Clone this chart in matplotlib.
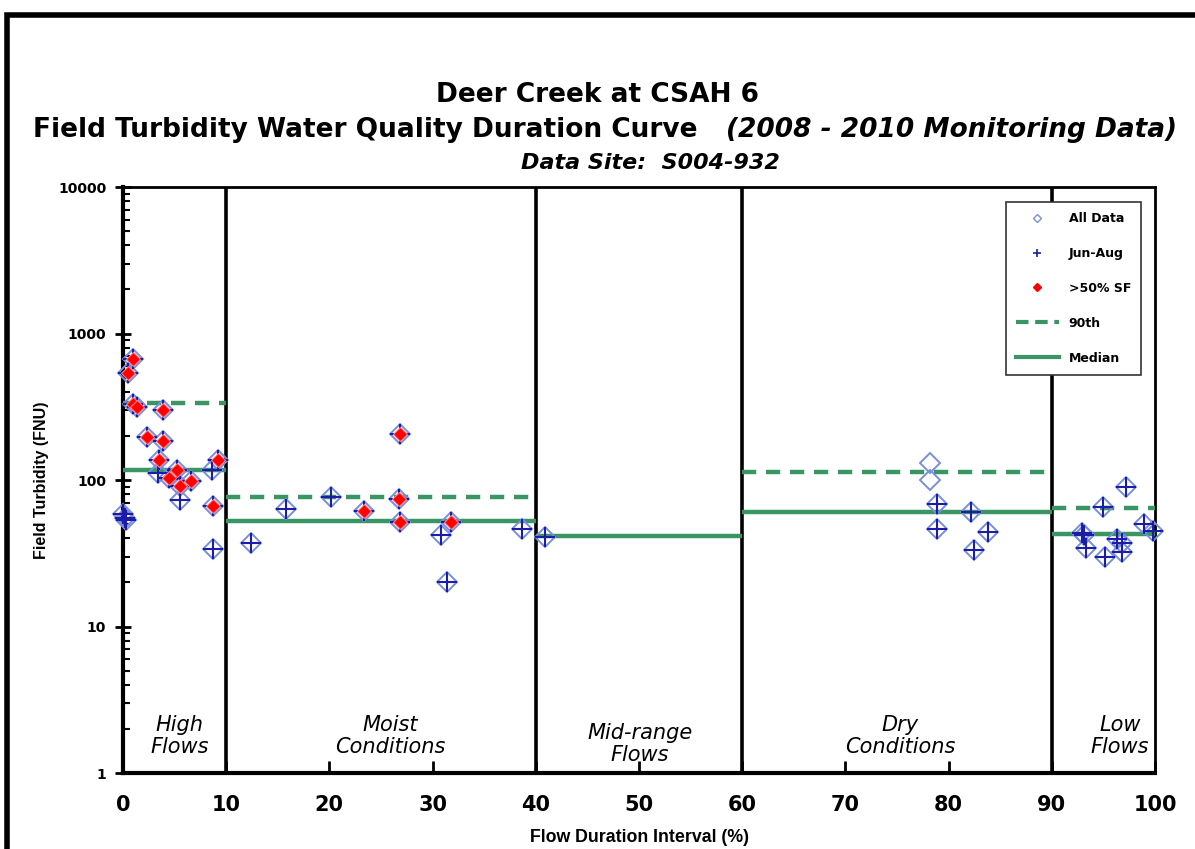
import matplotlib
matplotlib.use('Agg')
import matplotlib.pyplot as plt
from matplotlib.lines import Line2D
from matplotlib.patches import Rectangle
from matplotlib import font_manager
import numpy as np

# ---------------- data ----------------
# All samples (open light-blue diamonds): x = flow duration interval (%), y = turbidity (FNU)
all_x = [0.0, 0.15, 0.3, 0.5, 1.0, 1.0, 1.4, 2.3, 3.4, 3.5, 3.9, 3.9, 4.5, 5.2, 5.5, 5.5, 6.6,
         8.6, 8.75, 8.75, 9.2,
         12.4, 15.8, 20.2, 23.4, 26.7, 26.8, 26.8, 30.8, 31.4, 31.8, 38.7, 40.9,
         78.2, 78.2, 78.9, 78.9, 82.2, 82.5, 83.8,
         92.9, 93.1, 93.3, 95.0, 95.2, 96.3, 96.8, 96.8, 97.2, 98.9, 99.8]
all_y = [59, 55, 53, 540, 667, 330, 315, 196, 111, 137, 300, 185, 103, 117, 91, 73, 98,
         117, 66, 34, 137,
         37.3, 63, 77, 61.7, 73.8, 206, 51.7, 42, 20.1, 51.7, 46.1, 41,
         131, 100, 68.3, 46.1, 60.8, 33.3, 44.4,
         43.7, 42, 34.2, 65.7, 30, 39.4, 37, 32.4, 89, 50.1, 45.1]
# Jun-Aug samples (dark-blue plus)
jun_x = [0.0, 0.15, 0.3, 0.5, 1.0, 1.0, 1.4, 2.3, 3.4, 3.5, 3.9, 3.9, 4.5, 5.2, 5.5, 5.5, 6.6,
         8.6, 8.75, 8.75, 9.2,
         12.4, 15.8, 20.2, 23.4, 26.7, 26.8, 26.8, 30.8, 31.4, 31.8, 38.7, 40.9,
         78.9, 78.9, 82.2, 82.5, 83.8,
         92.9, 93.1, 93.3, 95.0, 95.2, 96.3, 96.8, 96.8, 97.2, 98.9, 99.8]
jun_y = [59, 55, 53, 540, 667, 330, 315, 196, 111, 137, 300, 185, 103, 117, 91, 73, 98,
         117, 66, 34, 137,
         37.3, 63, 77, 61.7, 73.8, 206, 51.7, 42, 20.1, 51.7, 46.1, 41,
         68.3, 46.1, 60.8, 33.3, 44.4,
         43.7, 42, 34.2, 65.7, 30, 39.4, 37, 32.4, 89, 50.1, 45.1]
# >50% storm flow samples (red filled diamonds)
sf_x = [0.5, 1.0, 1.0, 1.4, 2.3, 3.5, 3.9, 3.9, 4.5, 5.2, 5.5, 6.6, 8.75, 9.2,
        23.4, 26.7, 26.8, 26.8, 31.8]
sf_y = [540, 667, 330, 315, 196, 137, 300, 185, 103, 117, 91, 98, 66, 137,
        61.7, 73.8, 206, 51.7, 51.7]

# Flow zones and statistics
zone_edges = [0, 10, 40, 60, 90, 100]
zone_names = ["High\nFlows", "Moist\nConditions", "Mid-range\nFlows", "Dry\nConditions", "Low\nFlows"]
p90_vals = [335, 76.5, np.nan, 113.5, 64.4]
median_vals = [117, 52.5, 41.5, 60.5, 42.8]

x_ticks = [0, 10, 20, 30, 40, 50, 60, 70, 80, 90, 100]
y_ticks = [1, 10, 100, 1000, 10000]
y_ticklabels = ["1", "10", "100", "1000", "10000"]

# ---------------- style ----------------
names = {f.name for f in font_manager.fontManager.ttflist}
NARROW = 'Liberation Sans Narrow' if 'Liberation Sans Narrow' in names else 'DejaVu Sans'
SANS = 'Liberation Sans' if 'Liberation Sans' in names else 'DejaVu Sans'

GREEN = '#3a9463'
LBLUE = '#7890dc'
DBLUE = '#1c1ca8'
RED = '#ff0000'

fig = plt.figure(figsize=(11.95, 8.49), dpi=100)
ax = fig.add_axes([0.1029, 0.0895, 0.8636, 0.6902])

ax.set_yscale('log')
ax.set_xlim(0, 100)
ax.set_ylim(1, 10000)

# zone dividers
for e in zone_edges[1:-1]:
    ax.axvline(e, color='black', lw=2.6, zorder=2)

# statistics lines
for i in range(len(zone_edges) - 1):
    x0, x1 = zone_edges[i], zone_edges[i + 1]
    if not np.isnan(p90_vals[i]):
        ax.hlines(p90_vals[i], x0, x1, colors=GREEN, linestyles=(0, (3.2, 2.2)), lw=3.2, zorder=3)
    ax.hlines(median_vals[i], x0, x1, colors=GREEN, linestyles='solid', lw=3.2, zorder=3)

# markers
ax.plot(all_x, all_y, linestyle='none', marker='D', ms=10.5, mfc='none', mec=LBLUE, mew=1.4,
        zorder=4, clip_on=False)
ax.plot(jun_x, jun_y, linestyle='none', marker='+', ms=15, mec=DBLUE, mew=1.5,
        zorder=5, clip_on=False)
ax.plot(sf_x, sf_y, linestyle='none', marker='D', ms=7, mfc=RED, mec='#ff8080', mew=0.8,
        zorder=6, clip_on=False)

# zone labels
label_x = [5.5, 25.9, 50.1, 75.3, 96.6]
label_y = [0.063, 0.063, 0.050, 0.063, 0.063]
for nm, lx, ly in zip(zone_names, label_x, label_y):
    ax.text(lx, ly, nm, transform=ax.get_xaxis_transform(), ha='center', va='center',
            fontsize=15, style='italic', family=NARROW, linespacing=1.1, zorder=7)

# axes styling
for s in ['left', 'bottom']:
    ax.spines[s].set_linewidth(3)
for s in ['top', 'right']:
    ax.spines[s].set_linewidth(2)
ax.set_xticks(x_ticks)
ax.set_xticklabels([str(v) for v in x_ticks], fontsize=15, fontweight='bold', family=NARROW)
ax.tick_params(axis='x', direction='in', length=9, width=2, pad=16, top=False)
ax.set_yticks(y_ticks)
ax.set_yticklabels(y_ticklabels, fontsize=10, fontweight='bold', family=NARROW)
ax.tick_params(axis='y', which='major', direction='inout', length=12, width=2, pad=6, right=False)
ax.tick_params(axis='y', which='minor', direction='in', length=5, width=1.5, right=False)
ax.yaxis.set_minor_formatter(matplotlib.ticker.NullFormatter())

# axis titles
fig.text(0.035, 1 - 480 / 849, 'Field Turbidity (FNU)', rotation=90, ha='center', va='center',
         fontsize=11.5, fontweight='bold', family=SANS)
fig.text(0.535, 1 - 838 / 849, 'Flow Duration Interval (%)', ha='center', va='center',
         fontsize=12.8, fontweight='bold', family=SANS)

# titles
fig.text(597 / 1195, 1 - 95 / 849, 'Deer Creek at CSAH 6', ha='center', va='center',
         fontsize=19, fontweight='bold', family=NARROW)
r = fig.canvas.get_renderer()
yl2 = 1 - 130 / 849
t1 = fig.text(0, yl2, 'Field Turbidity Water Quality Duration Curve', ha='left', va='center',
              fontsize=19, fontweight='bold', family=NARROW)
t2 = fig.text(0, yl2, '(2008 - 2010 Monitoring Data)', ha='left', va='center',
              fontsize=19, fontweight='bold', style='italic', family=NARROW)
w1 = t1.get_window_extent(r).width
w2 = t2.get_window_extent(r).width
gap = 28
start = 605 - (w1 + gap + w2) / 2
t1.set_x(start / 1195)
t2.set_x((start + w1 + gap) / 1195)
fig.text(650 / 1195, 1 - 163 / 849, 'Data Site:  S004-932', ha='center', va='center',
         fontsize=16, fontweight='bold', style='italic', family=NARROW)

# legend
handles = [
    Line2D([], [], linestyle='none', marker='D', ms=4, mfc='none', mec=LBLUE, mew=1),
    Line2D([], [], linestyle='none', marker='+', ms=6, mec=DBLUE, mew=1.2),
    Line2D([], [], linestyle='none', marker='D', ms=4, mfc=RED, mec=RED),
    Line2D([], [], color=GREEN, lw=3, linestyle=(0, (3, 1.6))),
    Line2D([], [], color=GREEN, lw=3),
]
labels = ['All Data', 'Jun-Aug', '>50% SF', '90th', 'Median']
leg = fig.legend(handles, labels, loc='upper right', bbox_to_anchor=(1141 / 1195, 1 - 202 / 849),
                 borderaxespad=0, frameon=True, fancybox=False, edgecolor='#333333', framealpha=1,
                 prop={'family': NARROW, 'weight': 'bold', 'size': 9},
                 labelspacing=1.75, handlelength=3.4, borderpad=0.8, handletextpad=0.8)
leg.get_frame().set_linewidth(1.2)

# outer frame
fig.patches.append(Rectangle((0.006, -0.2), 1.2, 0.2 + 0.982, transform=fig.transFigure,
                             fill=False, edgecolor='black', lw=4, zorder=0))

fig.savefig('out.png', dpi=100)
